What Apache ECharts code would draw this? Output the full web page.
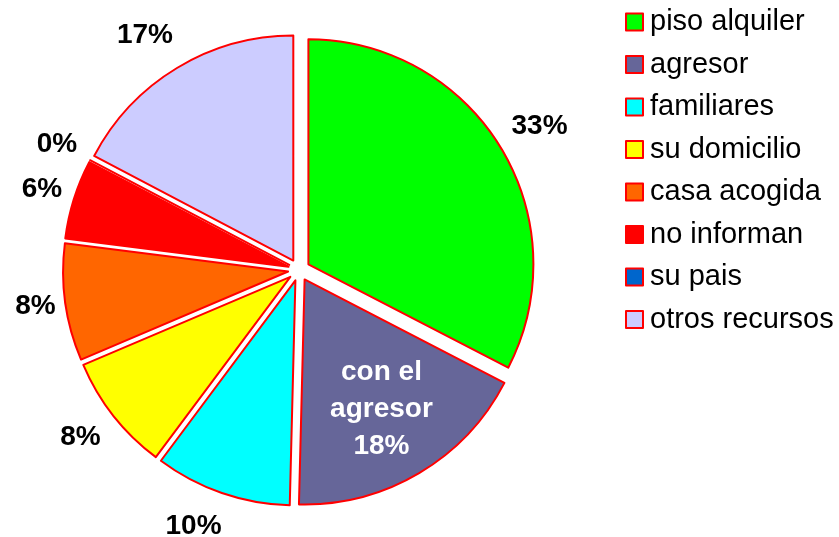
<!DOCTYPE html>
<html>
<head>
<meta charset="utf-8">
<script src="https://cdn.jsdelivr.net/npm/echarts@6/dist/echarts.min.js"></script>
<style>
  html, body { margin: 0; padding: 0; background: #fff; }
  #chart { width: 839px; height: 537px; }
</style>
</head>
<body>
<div id="chart"></div>
<script>
const categories = [ 'piso alquiler', 'agresor', 'familiares', 'su domicilio', 'casa acogida', 'no informan', 'su pais', 'otros recursos' ];
// shares in percent (labels show them rounded)
const values = [ 32.6, 17.8, 9.8, 8.4, 8.4, 5.7, 0, 17.3 ];
const colors = [ '#00FF00', '#666699', '#00FFFF', '#FFFF00', '#FF6600', '#FF0000', '#0066CC', '#CCCCFF' ];

const center = [ 299, 270 ];
const radius = 225;
const explode = 11;
const total = values.reduce( ( a, b ) => a + b, 0 );

// mid angle of each slice, clockwise from 12 o'clock
const midAngles = [];
let acc = 0;
values.forEach( v => {
	midAngles.push( ( acc + v / 2 ) / total * 2 * Math.PI );
	acc += v;
} );

const font = 'Liberation Sans, Arial, sans-serif';

const chart = echarts.init( document.getElementById( 'chart' ), null, { renderer: 'canvas' } );

chart.setOption( {
	animation: false,
	color: colors,
	textStyle: { fontFamily: font },
	legend: {
		orient: 'vertical',
		left: 620,
		top: 2,
		itemWidth: 17,
		itemHeight: 17,
		itemGap: 12.5,
		icon: 'rect',
		selectedMode: false,
		itemStyle: { borderColor: '#FF0000', borderWidth: 2 },
		textStyle: {
			fontSize: 29,
			lineHeight: 30,
			color: '#000',
			padding: [ 0, 0, 0, 2 ],
			fontFamily: font
		},
		data: categories
	},
	series: [ {
		// the slices, all pulled out a little
		type: 'pie',
		center: center,
		radius: radius,
		startAngle: 90,
		clockwise: true,
		selectedMode: 'multiple',
		selectedOffset: explode,
		itemStyle: { borderColor: '#FF0000', borderWidth: 2 },
		emphasis: { disabled: true },
		label: { show: false },
		labelLine: { show: false },
		data: categories.map( ( name, i ) => ( { name: name, value: values[ i ], selected: true } ) )
	}, {
		// invisible copy that only carries the labels
		type: 'pie',
		center: center,
		radius: radius,
		startAngle: 90,
		clockwise: true,
		silent: true,
		avoidLabelOverlap: false,
		itemStyle: { color: 'transparent', borderWidth: 0 },
		emphasis: { disabled: true },
		label: {
			show: true,
			position: 'outside',
			formatter: p => Math.round( p.percent ) + '%',
			fontSize: 28,
			fontWeight: 'bold',
			color: '#000',
			fontFamily: font
		},
		labelLine: { show: false },
		labelLayout: function ( params ) {
			const i = params.dataIndex;
			const a = midAngles[ i ];
			const sx = Math.sin( a );
			const cy = -Math.cos( a );
			if ( i === 1 ) {
				return {
					x: center[ 0 ] + 162 * sx,
					y: center[ 1 ] + 162 * cy,
					align: 'center',
					verticalAlign: 'middle'
				};
			}
			const r = radius + explode + 7 + Math.abs( sx ) * params.labelRect.width / 2 + 20 * Math.abs( cy );
			// labels near top/bottom sit a bit further to the side
			const push = 25 * Math.sign( sx ) * ( 1 - Math.abs( sx ) );
			return {
				x: center[ 0 ] + r * sx + push,
				y: center[ 1 ] + r * cy,
				align: 'center',
				verticalAlign: 'middle'
			};
		},
		data: categories.map( ( name, i ) => {
			const item = { name: name, value: values[ i ] };
			if ( i === 1 ) {
				item.label = {
					position: 'inside',
					formatter: p => 'con el\nagresor\n' + Math.round( p.percent ) + '%',
					color: '#FFFFFF',
					lineHeight: 37
				};
			}
			return item;
		} )
	} ]
} );
</script>
</body>
</html>
